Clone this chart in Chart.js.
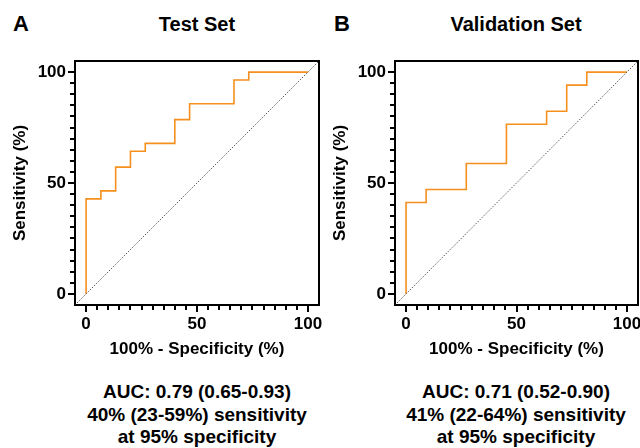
<!DOCTYPE html>
<html>
<head>
<meta charset="utf-8">
<script src="https://cdn.jsdelivr.net/npm/chart.js@4.4.1/dist/chart.umd.min.js"></script>
<style>
  html, body { margin: 0; padding: 0; background: #fff; }
  body { width: 640px; height: 448px; position: relative; overflow: hidden;
         font-family: "Liberation Sans", Arial, sans-serif; color: #000; }
  .cv { position: absolute; top: 0; }
  .t { position: absolute; font-weight: bold; white-space: nowrap; text-align: center; }
  .letter { position: absolute; font-weight: bold; font-size: 22px; line-height: 22px; }
  .title { font-size: 20px; line-height: 20px; width: 300px; }
  .note { font-size: 19px; line-height: 22.5px; width: 320px; }
</style>
</head>
<body>
<div class="letter" style="left:13px; top:13px;">A</div>
<div class="letter" style="left:334px; top:13px;">B</div>
<div class="t title" style="left:47px; top:14px;">Test Set</div>
<div class="t title" style="left:366px; top:14px;">Validation Set</div>
<div class="t note" style="left:37px; top:381px;">AUC: 0.79 (0.65-0.93)<br>40% (23-59%) sensitivity<br>at 95% specificity</div>
<div class="t note" style="left:356px; top:381px;">AUC: 0.71 (0.52-0.90)<br>41% (22-64%) sensitivity<br>at 95% specificity</div>

<canvas id="cA" class="cv" style="left:0px;" width="322" height="370"></canvas>
<canvas id="cB" class="cv" style="left:320px;" width="320" height="370"></canvas>

<script>
// ---- data ----
const testFPR = [0, 0, 6.67, 13.33, 20, 26.67, 40, 46.67, 66.67, 73.33, 100];
const testTPR = [0, 42.86, 46.43, 57.14, 64.29, 67.86, 78.57, 85.71, 96.43, 100, 100];
const valFPR  = [0, 0, 9.09, 27.27, 45.45, 63.64, 72.73, 81.82, 100];
const valTPR  = [0, 41.18, 47.06, 58.82, 76.47, 82.35, 94.12, 100, 100];
const diagX = [-5, 105];
const diagY = [-5, 105];
const majorTicks = [0, 50, 100];
const axisMin = -5, axisMax = 105, minorStep = 5;
const xTitle = '100% - Specificity (%)';
const yTitle = 'Sensitivity (%)';

const FONT = 'Liberation Sans, Arial, sans-serif';
const tickFont = { family: FONT, size: 17, weight: 'bold' };
const titleFont = { family: FONT, size: 17, weight: 'bold' };

const framePlugin = {
  id: 'frameTicks',
  afterDraw(chart) {
    const ctx = chart.ctx;
    const { left, right, top, bottom } = chart.chartArea;
    const xs = chart.scales.x, ys = chart.scales.y;
    ctx.save();
    ctx.strokeStyle = '#000';
    ctx.lineWidth = 2;
    ctx.strokeRect(left, top, right - left, bottom - top);
    ctx.lineCap = 'butt';
    for (let v = 0; v <= 100; v += minorStep) {
      const major = majorTicks.includes(v);
      const len = major ? 7 : 5;
      const px = Math.round(xs.getPixelForValue(v));
      ctx.beginPath();
      ctx.moveTo(px, bottom);
      ctx.lineTo(px, bottom + len);
      ctx.stroke();
      const py = Math.round(ys.getPixelForValue(v));
      ctx.beginPath();
      ctx.moveTo(left, py);
      ctx.lineTo(left - len, py);
      ctx.stroke();
    }
    ctx.restore();
  }
};

function makePanel(id, fpr, tpr, rightPad) {
  const roc = fpr.map((x, i) => ({ x: x, y: tpr[i] }));
  const diag = diagX.map((x, i) => ({ x: x, y: diagY[i] }));
  new Chart(document.getElementById(id), {
    type: 'line',
    data: {
      datasets: [
        { data: diag, borderColor: '#555', borderWidth: 1, borderDash: [1.5, 1.5],
          pointRadius: 0, fill: false, tension: 0 },
        { data: roc, borderColor: '#F5901E', borderWidth: 1.6, stepped: 'before',
          pointRadius: 0, fill: false }
      ]
    },
    options: {
      responsive: false,
      animation: false,
      events: [],
      layout: { padding: { top: 61, right: rightPad, left: 0, bottom: 0 } },
      plugins: { legend: { display: false }, tooltip: { enabled: false }, title: { display: false } },
      scales: {
        x: {
          type: 'linear', min: axisMin, max: axisMax,
          afterBuildTicks: s => { s.ticks = majorTicks.map(v => ({ value: v })); },
          afterFit: s => { s.height = 65; s.paddingLeft = 0; s.paddingRight = 0; },
          grid: { display: false, drawTicks: false },
          border: { display: false },
          ticks: { font: tickFont, color: '#000', padding: 9, maxRotation: 0, autoSkip: false },
          title: { display: true, text: xTitle, font: titleFont, color: '#000', padding: { top: 0, bottom: 10 } }
        },
        y: {
          type: 'linear', min: axisMin, max: axisMax,
          afterBuildTicks: s => { s.ticks = majorTicks.map(v => ({ value: v })); },
          afterFit: s => { s.width = 75; s.paddingTop = 0; s.paddingBottom = 0; },
          grid: { display: false, drawTicks: false },
          border: { display: false },
          ticks: { font: tickFont, color: '#000', padding: 9, autoSkip: false },
          title: { display: true, text: yTitle, font: titleFont, color: '#000', padding: { top: 10, bottom: 0 } }
        }
      }
    },
    plugins: [framePlugin]
  });
}

makePanel('cA', testFPR, testTPR, 3);
makePanel('cB', valFPR, valTPR, 2);
</script>
</body>
</html>
